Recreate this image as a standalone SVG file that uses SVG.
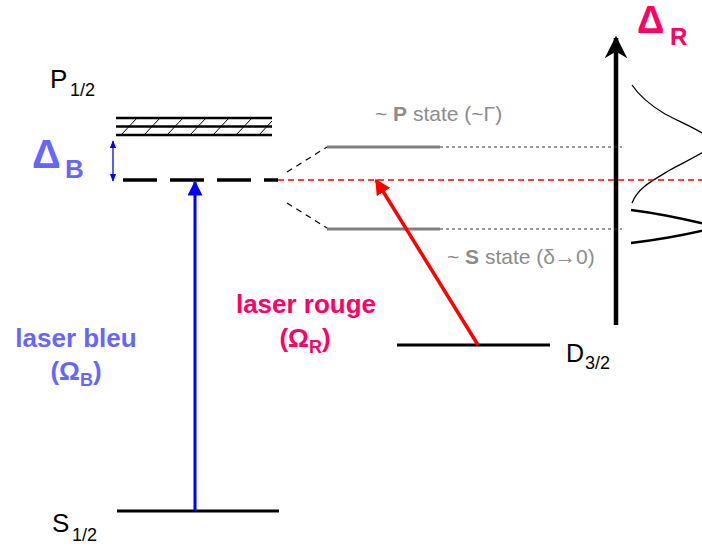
<svg xmlns="http://www.w3.org/2000/svg" width="702" height="547" viewBox="0 0 702 547">
<defs>
<style>
text{font-family:"Liberation Sans",Arial,sans-serif}
.lvl{stroke:#000;stroke-width:3;fill:none}
.gray{stroke:#808080;stroke-width:3}
.dot{stroke:#333;stroke-width:1;stroke-dasharray:3 3}
.blue{fill:#6666ff;font-weight:bold}
.mag{fill:#ff0066;font-weight:bold}
.g{fill:#8c8c8c;font-size:21px}
</style>
<marker id="ab" viewBox="0 0 10 10" refX="9" refY="5" markerWidth="5" markerHeight="5" orient="auto"><path d="M0,0L10,5L0,10z" fill="#0000ff"/></marker>
<marker id="ar" viewBox="0 0 10 10" refX="9" refY="5" markerWidth="4.5" markerHeight="4.5" orient="auto"><path d="M0,0L10,5L0,10z" fill="#ff0000"/></marker>
<marker id="ak" viewBox="0 0 10 10" refX="9" refY="5" markerWidth="5" markerHeight="5" orient="auto"><path d="M0,0L10,5L0,10L3,5z" fill="#000"/></marker>
<marker id="abs" viewBox="0 0 10 10" refX="9" refY="5" markerWidth="6" markerHeight="6" orient="auto"><path d="M0,1L10,5L0,9z" fill="#0000ff"/></marker>
</defs>

<g id="P12">
<text x="50" y="88" font-size="26">P</text><text x="70" y="96" font-size="18">1/2</text>
<g stroke="#000" stroke-width="2.5"><line x1="116" y1="118" x2="272" y2="118"/><line x1="116" y1="126.5" x2="272" y2="126.5"/><line x1="116" y1="135" x2="272" y2="135"/></g>
<g stroke="#000" stroke-width="1"><path d="M121,135L137,118M144,135L160,118M167,135L183,118M190,135L206,118M213,135L229,118M236,135L252,118M259,135L272,121"/></g>
</g>

<g id="deltaB">
<text x="32" y="168" font-size="40" class="blue">Δ</text><text x="65" y="178" font-size="26" class="blue">B</text>
</g>

<g id="virtual">
<line x1="123" y1="180" x2="278" y2="180" stroke="#000" stroke-width="3.5" stroke-dasharray="34 13"/>
</g>

<g id="S12">
<line class="lvl" x1="117" y1="511" x2="279" y2="511"/>
<text x="52" y="532" font-size="26">S</text><text x="72" y="541" font-size="18">1/2</text>
</g>

<g id="D32">
<line class="lvl" x1="397" y1="345" x2="550" y2="345"/>
<text x="566" y="362" font-size="25">D</text><text x="585" y="369" font-size="18">3/2</text>
</g>

<g id="Pstate">
<line class="gray" x1="327" y1="147" x2="440" y2="147"/>
<text x="375" y="121" class="g">~ <tspan font-weight="bold">P</tspan> state (~Γ)</text>
</g>
<g id="Sstate">
<line class="gray" x1="327" y1="229" x2="440" y2="229"/>
<text x="447" y="264" class="g">~ <tspan font-weight="bold">S</tspan> state (δ→0)</text>
</g>

<g id="labels">
<text x="76" y="347" font-size="26" text-anchor="middle" class="blue">laser bleu</text>
<text x="76" y="380" font-size="26" class="blue" text-anchor="middle">(Ω<tspan font-size="18" dy="6">B</tspan><tspan dy="-6">)</tspan></text>
<text x="306" y="313" font-size="26" text-anchor="middle" class="mag">laser rouge</text>
<text x="305" y="347" font-size="26" class="mag" text-anchor="middle">(Ω<tspan font-size="18" dy="6">R</tspan><tspan dy="-6">)</tspan></text>
</g>

<g id="axis">
<line x1="616" y1="325" x2="616" y2="38" stroke="#000" stroke-width="4.5" marker-end="url(#ak)"/>
<text x="637" y="33" font-size="38" class="mag">Δ</text><text x="670" y="45" font-size="24" class="mag">R</text>
<path d="M632,85 C640,97 650,105 665,114 C680,122 695,128 705,135 L715,143 L705,151 C695,157 685,162 670,170 C650,182 638,188 632,203" fill="none" stroke="#000" stroke-width="1.3"/>
<path d="M631,210 C655,213 680,218 705,224 L715,227 L705,230 C680,236 655,240 631,243" fill="none" stroke="#000" stroke-width="2.5"/>
</g>

<g id="connectors">
<path d="M287,172L327,147M287,203L327,228" stroke="#000" stroke-width="1.2" stroke-dasharray="6 5" fill="none"/>
<line x1="278" y1="180" x2="702" y2="180" stroke="#ff0000" stroke-width="1.3" stroke-dasharray="6 4"/>
<line class="dot" x1="440" y1="147" x2="622" y2="147"/>
<line class="dot" x1="440" y1="229" x2="622" y2="229"/>
<line x1="113" y1="160" x2="113" y2="141" stroke="#0000ff" stroke-width="1.3" marker-end="url(#abs)"/>
<line x1="113" y1="160" x2="113" y2="181" stroke="#0000ff" stroke-width="1.3" marker-end="url(#abs)"/>
<line x1="195" y1="511" x2="195" y2="182" stroke="#0000ff" stroke-width="3" marker-end="url(#ab)"/>
<line x1="478" y1="345" x2="376" y2="180" stroke="#ff0000" stroke-width="3.5" marker-end="url(#ar)"/>
</g>
</svg>
